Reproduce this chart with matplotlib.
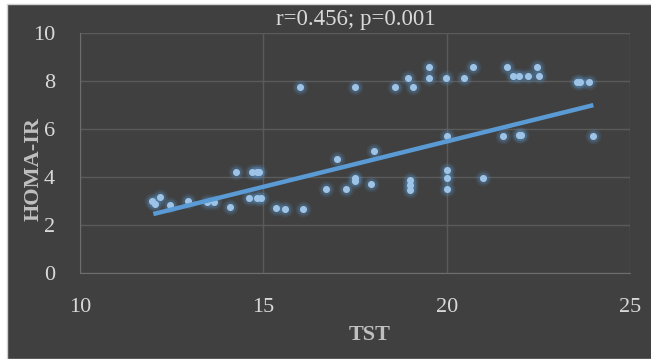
import numpy as np
import matplotlib
matplotlib.use('Agg')
import matplotlib.pyplot as plt
from matplotlib.patches import Rectangle

plt.rcParams['font.family'] = ['Liberation Serif', 'DejaVu Serif']

# TST vs HOMA-IR
tst = [11.95, 12.05, 12.18, 12.45, 12.95, 13.45, 13.65, 14.09, 14.25, 14.68, 14.82, 14.89,
       14.61, 14.82, 14.93, 15.35, 15.59, 16.09, 16.71, 17.0, 17.25, 17.5, 17.5, 17.94,
       18.02, 19.0, 19.0, 19.0, 20.0, 20.0, 20.0, 20.0, 16.0, 17.5, 18.59, 18.95, 19.09,
       19.53, 19.53, 19.98, 20.47, 20.71, 21.64, 21.82, 21.98, 22.23, 22.45, 22.53,
       23.55, 23.64, 23.89, 21.53, 21.98, 22.04, 24.0, 21.0]
homa = [3.0, 2.86, 3.17, 2.83, 3.0, 2.97, 2.97, 2.73, 4.19, 4.19, 4.19, 4.19,
        3.13, 3.13, 3.13, 2.69, 2.66, 2.66, 3.48, 4.75, 3.48, 3.94, 3.85, 3.70,
        5.10, 3.87, 3.66, 3.45, 4.29, 3.94, 3.48, 5.72, 7.77, 7.77, 7.77, 8.12, 7.77,
        8.58, 8.12, 8.12, 8.12, 8.58, 8.58, 8.23, 8.23, 8.23, 8.58, 8.23,
        7.98, 7.98, 7.98, 5.71, 5.75, 5.75, 5.71, 3.97]
trend_x = [12.0, 24.0]
trend_y = [2.45, 7.0]

BG = '#404040'
GRID = '#5A5A5A'
TXT = '#D9D9D9'

fig = plt.figure(figsize=(6.51, 3.59), dpi=100, facecolor='white')
fig.patches.append(Rectangle((7 / 651, 0), 1, 1 - 4 / 359, transform=fig.transFigure,
                             facecolor=BG, edgecolor='#D0D0D0', lw=1, zorder=-5))

ax = fig.add_axes([80 / 651, 1 - 272.7 / 359, 550 / 651, 239.4 / 359])
ax.set_facecolor(BG)
ax.patch.set_alpha(0)

# glow + points
ax.scatter(tst, homa, s=130, color='#5B9BD5', alpha=0.12, lw=0, zorder=3)
ax.scatter(tst, homa, s=70, color='#5B9BD5', alpha=0.22, lw=0, zorder=3)
ax.scatter(tst, homa, s=26, color='#9DC3E6', lw=0, zorder=4)
ax.plot(trend_x, trend_y, color='#5B9BD5', lw=3.2, solid_capstyle='butt', zorder=5)

ax.set_xlim(10, 25)
ax.set_ylim(0, 10)
ax.set_xticks([10, 15, 20, 25])
ax.set_yticks([0, 2, 4, 6, 8, 10])
ax.grid(True, color=GRID, lw=1)
ax.set_axisbelow(True)
for s in ['top', 'right']:
    ax.spines[s].set_visible(False)
for s in ['left', 'bottom']:
    ax.spines[s].set_color('#6E6E6E')
ax.tick_params(length=0, colors=TXT, labelsize=16)
ax.tick_params(axis='x', pad=18)
ax.tick_params(axis='y', pad=18)

ax.set_xlabel('TST', fontsize=16, fontweight='bold', color='#BFBFBF')
ax.set_ylabel('HOMA-IR', fontsize=16, fontweight='bold', color='#BFBFBF')
ax.xaxis.set_label_coords((370 - 80) / 550, -(335 - 272.7) / 239.4)
ax.xaxis.label.set_va('center')
ax.yaxis.set_label_coords(-(80 - 34) / 550, (272.7 - 169) / 239.4)
ax.yaxis.label.set_va('center')

fig.text(356 / 651, 1 - 20 / 359, 'r=0.456; p=0.001', fontsize=16.5, color=TXT,
         ha='center', va='center')

fig.savefig('out.png', dpi=100, facecolor='white')
